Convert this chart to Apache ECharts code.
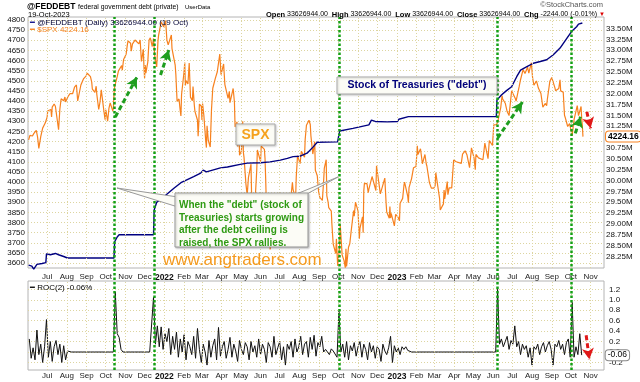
<!DOCTYPE html>
<html><head><meta charset="utf-8">
<script src="https://cdn.jsdelivr.net/npm/echarts@6/dist/echarts.min.js"></script>
<style>html,body{margin:0;padding:0;background:#fff}#c{width:640px;height:382px}</style>
</head><body><div id="c"></div>
<script>
// ---------------- DATA ----------------
const monthTicks = ['2021-07-01','2021-08-01','2021-09-01','2021-10-01','2021-11-01','2021-12-01',
 '2022-01-01','2022-02-01','2022-03-01','2022-04-01','2022-05-01','2022-06-01','2022-07-01','2022-08-01',
 '2022-09-01','2022-10-01','2022-11-01','2022-12-01','2023-01-01','2023-02-01','2023-03-01','2023-04-01',
 '2023-05-01','2023-06-01','2023-07-01','2023-08-01','2023-09-01','2023-10-01','2023-11-01'];
const monthNames = ['Jan','Feb','Mar','Apr','May','Jun','Jul','Aug','Sep','Oct','Nov','Dec'];
const ceilingDates = ['2021-10-14','2021-12-16','2022-10-03','2023-06-07','2023-10-02'];

const spx2021 = [['06-02',4208],['06-04',4230],['06-08',4227],['06-10',4239],['06-14',4255],['06-16',4223],['06-18',4166],['06-21',4224],['06-24',4266],['06-28',4291],['07-01',4320],['07-02',4352],['07-07',4358],['07-08',4321],['07-09',4370],['07-12',4385],['07-14',4374],['07-16',4327],['07-19',4258],['07-21',4359],['07-23',4411],['07-27',4401],['07-29',4420],['07-30',4395],['08-03',4423],['08-05',4429],['08-06',4437],['08-10',4436],['08-13',4468],['08-16',4479],['08-18',4400],['08-19',4406],['08-23',4479],['08-26',4470],['08-27',4509],['08-31',4523],['09-02',4537],['09-07',4520],['09-09',4493],['09-10',4459],['09-14',4443],['09-16',4473],['09-17',4433],['09-20',4358],['09-22',4395],['09-24',4455],['09-28',4353],['09-30',4308],['10-01',4357],['10-04',4300],['10-06',4363],['10-08',4391],['10-12',4351],['10-13',4363],['10-14',4438],['10-15',4471],['10-19',4520],['10-21',4549],['10-22',4545],['10-26',4575],['10-27',4552],['10-29',4605],['11-02',4631],['11-04',4680],['11-05',4697],['11-09',4685],['11-10',4646],['11-12',4682],['11-16',4701],['11-18',4704],['11-19',4698],['11-22',4682],['11-24',4701],['11-26',4595],['11-29',4655],['11-30',4567],['12-01',4513],['12-02',4577],['12-03',4538],['12-06',4592],['12-08',4701],['12-10',4712],['12-13',4669],['12-15',4709],['12-17',4620],['12-20',4568],['12-22',4697],['12-23',4725],['12-27',4791],['12-29',4793],['12-31',4766]];
const spx2022 = [['01-03',4797],['01-04',4794],['01-05',4701],['01-07',4677],['01-10',4670],['01-12',4726],['01-13',4659],['01-14',4663],['01-18',4577],['01-19',4533],['01-21',4398],['01-24',4410],['01-26',4350],['01-27',4326],['01-28',4432],['02-01',4546],['02-02',4590],['02-03',4477],['02-04',4501],['02-07',4484],['02-09',4587],['02-10',4504],['02-11',4419],['02-14',4401],['02-15',4472],['02-17',4380],['02-18',4349],['02-22',4305],['02-23',4226],['02-24',4288],['02-25',4385],['02-28',4374],['03-01',4306],['03-02',4387],['03-04',4329],['03-07',4201],['03-08',4170],['03-09',4278],['03-11',4204],['03-14',4173],['03-16',4358],['03-18',4463],['03-22',4512],['03-24',4520],['03-25',4543],['03-29',4632],['03-31',4530],['04-04',4583],['04-06',4481],['04-08',4488],['04-11',4413],['04-13',4447],['04-14',4392],['04-19',4462],['04-21',4394],['04-22',4272],['04-25',4297],['04-26',4176],['04-28',4288],['04-29',4132],['05-02',4155],['05-04',4300],['05-05',4147],['05-06',4123],['05-09',3991],['05-11',3935],['05-12',3930],['05-13',4023],['05-17',4088],['05-18',3923],['05-20',3901],['05-24',3941],['05-26',4058],['05-27',4158],['06-01',4101],['06-02',4177],['06-07',4161],['06-08',4116],['06-09',4018],['06-10',3901],['06-13',3750],['06-15',3790],['06-16',3667],['06-17',3675],['06-21',3765],['06-23',3796],['06-24',3912],['06-28',3821],['06-30',3785],['07-01',3825],['07-05',3831],['07-08',3899],['07-11',3855],['07-14',3790],['07-15',3863],['07-19',3937],['07-21',3999],['07-22',3962],['07-26',3921],['07-27',4024],['07-29',4130],['08-02',4091],['08-04',4152],['08-05',4145],['08-09',4122],['08-10',4210],['08-12',4280],['08-16',4305],['08-18',4284],['08-19',4228],['08-22',4138],['08-25',4199],['08-26',4058],['08-29',4031],['08-31',3955],['09-02',3924],['09-06',3909],['09-08',4006],['09-09',4067],['09-12',4110],['09-13',3932],['09-15',3901],['09-16',3873],['09-20',3856],['09-21',3790],['09-23',3693],['09-27',3647],['09-28',3719],['09-30',3586],['10-03',3679],['10-04',3791],['10-05',3783],['10-07',3640],['10-10',3612],['10-12',3577],['10-13',3670],['10-14',3583],['10-17',3678],['10-19',3695],['10-21',3752],['10-25',3859],['10-26',3831],['10-28',3901],['11-01',3856],['11-03',3720],['11-04',3771],['11-08',3828],['11-09',3749],['11-10',3956],['11-11',3993],['11-15',3992],['11-17',3947],['11-18',3965],['11-23',4027],['11-25',4026],['11-29',3958],['11-30',4080],['12-02',4072],['12-06',3941],['12-09',3934],['12-13',4019],['12-15',3896],['12-16',3852],['12-20',3821],['12-21',3879],['12-22',3822],['12-23',3845],['12-28',3783],['12-30',3840]];
const spx2023 = [['01-03',3825],['01-05',3808],['01-06',3895],['01-10',3919],['01-12',3983],['01-13',3999],['01-18',3929],['01-19',3898],['01-20',3972],['01-24',4017],['01-27',4070],['01-31',4077],['02-02',4179],['02-03',4136],['02-07',4164],['02-10',4090],['02-14',4136],['02-16',4090],['02-17',4079],['02-21',3997],['02-24',3970],['02-28',3970],['03-02',3982],['03-03',4046],['03-06',4048],['03-09',3918],['03-10',3862],['03-13',3855],['03-15',3892],['03-16',3960],['03-17',3917],['03-21',4002],['03-22',3937],['03-24',3971],['03-28',3971],['03-31',4109],['04-04',4100],['04-06',4105],['04-12',4092],['04-14',4138],['04-18',4154],['04-21',4133],['04-25',4071],['04-27',4135],['04-28',4169],['05-02',4119],['05-04',4061],['05-05',4136],['05-09',4119],['05-12',4124],['05-16',4110],['05-19',4192],['05-24',4115],['05-26',4205],['05-31',4180],['06-02',4282],['06-06',4283],['06-08',4294],['06-09',4299],['06-13',4369],['06-15',4426],['06-16',4410],['06-20',4389],['06-23',4348],['06-26',4328],['06-30',4450],['07-06',4411],['07-07',4399],['07-12',4473],['07-14',4505],['07-18',4555],['07-21',4536],['07-25',4567],['07-27',4538],['07-31',4589],['08-02',4513],['08-04',4478],['08-08',4499],['08-11',4464],['08-15',4437],['08-18',4370],['08-22',4388],['08-24',4377],['08-25',4406],['08-29',4497],['09-01',4516],['09-06',4465],['09-07',4451],['09-08',4457],['09-12',4462],['09-14',4505],['09-15',4450],['09-19',4444],['09-21',4330],['09-22',4320],['09-26',4274],['09-29',4288],['10-03',4229],['10-06',4308],['10-11',4377],['10-13',4328],['10-17',4373],['10-18',4314],['10-19',4278],['10-20',4224.16]];

const debtPoints = [['2021-06-02',28050000],['2021-06-07',28030000],['2021-06-10',27960000],['2021-06-11',27980000],['2021-06-15',28070000],['2021-06-23',28090000],['2021-06-29',28110000],['2021-06-30',28310000],['2021-07-06',28290000],['2021-07-14',28320000],['2021-07-19',28290000],['2021-07-27',28250000],['2021-08-02',28215000],['2021-10-14',28215000],['2021-10-15',28590000],['2021-10-19',28700000],['2021-10-22',28750000],['2021-12-15',28750000],['2021-12-16',29320000],['2021-12-20',29500000],['2021-12-27',29560000],['2022-01-03',29660000],['2022-01-16',29820000],['2022-01-27',29950000],['2022-02-16',30090000],['2022-02-27',30170000],['2022-03-03',30240000],['2022-03-08',30200000],['2022-03-30',30290000],['2022-04-10',30310000],['2022-04-30',30370000],['2022-05-11',30400000],['2022-06-01',30410000],['2022-06-16',30430000],['2022-07-02',30470000],['2022-07-13',30510000],['2022-07-22',30550000],['2022-08-02',30560000],['2022-08-13',30630000],['2022-08-23',30780000],['2022-08-29',30880000],['2022-09-30',30890000],['2022-10-03',31140000],['2022-10-24',31200000],['2022-11-18',31280000],['2022-11-22',31390000],['2022-11-28',31360000],['2022-12-17',31350000],['2023-01-02',31360000],['2023-01-04',31410000],['2023-01-19',31470000],['2023-06-06',31470000],['2023-06-07',31850000],['2023-06-14',31970000],['2023-06-22',32070000],['2023-06-30',32160000],['2023-07-08',32390000],['2023-07-14',32540000],['2023-07-24',32620000],['2023-08-03',32700000],['2023-08-14',32740000],['2023-08-24',32780000],['2023-09-03',32890000],['2023-09-14',33050000],['2023-09-23',33240000],['2023-10-02',33430000],['2023-10-10',33540000],['2023-10-13',33600000],['2023-10-19',33626944]];

// ROC(2) readings, one every 3 days starting rocStart
const rocStart = '2021-06-03';
const rocStepDays = 3;
const rocValues = [
 0.25,-0.12,0.08,-0.15,0.42,-0.05,0.15,-0.2,0.1,0.62,
 -0.1,0.2,-0.18,0.1,0.22,-0.05,0.15,-0.2,0.12,-0.15,
 0.02,0,0,0,0,0,0,0,0,0,0,0,0,0,0,0,0,0,0,0,0,0,0,0,0,
 1.15,
 0.35,0.28,0.05,0,0,0,0,0,0,0,0,0,0,0,0,0,0,0,0,
 1.05,
 0.15,0.5,0.1,0.48,0.05,0.35,0.2,0.45,-0.05,0.3,
 0.05,0.38,-0.1,0.25,0.0,0.33,-0.15,0.2,0.1,-0.05,
 0.3,-0.12,0.45,0.05,-0.2,0.15,0.0,-0.25,0.22,-0.1,
 0.12,0.25,-0.15,0.47,-0.08,0.1,0.2,-0.12,0.05,0.28,
 -0.1,0.15,0.02,-0.18,0.22,0.05,-0.05,0.18,0.1,-0.15,
 0.2,0.0,0.12,-0.1,0.25,-0.05,0.15,0.05,-0.2,0.18,
 0.1,-0.1,0.3,-0.05,0.08,0.2,-0.15,0.1,-0.25,0.15,
 0.05,0.2,-0.1,0.25,0.0,0.1,0.3,-0.05,0.15,0.2,
 -0.1,0.28,0.05,0.32,-0.08,0.18,0.1,0.3,0.0,0.05,
 0.08,-0.05,0.06,0.02,0.05,-0.1,
 0.78,
 0.0,0.15,-0.1,0.2,-0.15,0.12,0.02,0.18,-0.08,0.1,
 0.2,-0.1,0.15,0.05,-0.15,0.18,0.0,0.12,-0.12,0.1,
 0.05,-0.18,0.15,0.02,-0.05,0.08,0.3,-0.2,0.12,0.0,
 0.08,-0.05,0.1,0.05,0.1,0.03,
 0,0,0,0,0,0,0,0,0,0,0,0,0,0,0,0,0,0,0,0,0,0,0,0,0,0,0,0,0,0,0,0,0,0,0,0,0,0,0,0,0,0,0,0,0,0,
 1.2,
 0.15,0.25,0.1,0.2,0.3,0.05,0.22,0.15,0.5,0.1,
 0.2,-0.05,0.15,0.05,0.12,-0.1,0.08,-0.25,0.1,0.05,
 0.15,-0.05,0.1,0.18,0.0,0.12,0.2,0.05,-0.25,0.15,
 0.1,0.22,0.05,0.15,-0.05,0.18,0.25,-0.1,
 0.95,
 -0.1,0.1,-0.05,0.35,-0.06];

// annotation arrows in data coordinates
const spxArrows = [
 {from:['2021-10-16',4321], to:['2021-11-19',4518], color:'#1f9e1f'},
 {from:['2021-12-26',4528], to:['2022-01-08',4652], color:'#1f9e1f'},
 {from:['2022-10-22',3585], to:['2022-11-06',3753], color:'#1f9e1f'},
 {from:['2023-06-08',4217], to:['2023-07-17',4395], color:'#1f9e1f'},
 {from:['2023-10-08',4240], to:['2023-10-16',4322], color:'#1f9e1f'},
 {from:['2023-10-26',4347], to:['2023-11-01',4265], color:'#e01818'}
];
const rocArrow = {from:['2023-10-25',0.32], to:['2023-10-30',-0.14], color:'#e01818'};

// ---------------- BUILD ----------------
function ts(s){const p=s.split('-').map(Number);return new Date(p[0],p[1]-1,p[2]).getTime();}
const spxData = [].concat(
  spx2021.map(d=>[ts('2021-'+d[0]),d[1]]),
  spx2022.map(d=>[ts('2022-'+d[0]),d[1]]),
  spx2023.map(d=>[ts('2023-'+d[0]),d[1]]));
const debtData = debtPoints.map(d=>[ts(d[0]),d[1]]);
const rocData = rocValues.map((v,i)=>[ts(rocStart)+i*rocStepDays*86400000, v]);
const monthTs = monthTicks.map(ts);
const X_MIN = ts('2021-06-01'), X_MAX = ts('2023-11-22');
const FONT = '"Liberation Sans", Arial, sans-serif';
const L = 28, R = 36;

function hiddenX(g){return {type:'value',gridIndex:g,min:X_MIN,max:X_MAX,show:false,splitLine:{show:false}};}
function hiddenY(g){return {type:'value',gridIndex:g,min:0,max:1,show:false,splitLine:{show:false}};}
function labelX(g, margin){
  return {type:'value',gridIndex:g,min:X_MIN,max:X_MAX,
    axisLine:{show:false},axisTick:{show:false},splitLine:{show:false},
    axisLabel:{customValues:monthTs,margin:margin,fontSize:8,color:'#222',fontFamily:FONT,hideOverlap:false,
      formatter:function(v){const d=new Date(v);return d.getMonth()===0?'{y|'+d.getFullYear()+'}':monthNames[d.getMonth()];},
      rich:{y:{fontWeight:'bold',fontSize:8.5,color:'#111',fontFamily:FONT}}}};
}
const gridLineStyle = {color:'#ddd5a0',width:1,type:[1,2]};
function monthGrid(xi, yi){
  return {type:'line',xAxisIndex:xi,yAxisIndex:yi,data:[],silent:true,
    markLine:{silent:true,symbol:['none','none'],label:{show:false},lineStyle:gridLineStyle,
      data:monthTs.map(t=>({xAxis:t}))}};
}
function arrowLines(list){
  return list.map(a=>[{coord:[ts(a.from[0]),a.from[1]],lineStyle:{color:a.color,width:3,type:[5,3]},itemStyle:{color:a.color}},
                      {coord:[ts(a.to[0]),a.to[1]]}]);
}
const boxLabel = (txt,border,dist)=>({show:true,position:'right',distance:dist,formatter:txt,
  backgroundColor:'#fff',borderColor:border,borderWidth:1,borderRadius:3,padding:[1,2,0,2],
  fontSize:8.5,fontWeight:'bold',color:'#000',fontFamily:FONT});

const lastSpx = spxData[spxData.length-1], lastDebt = debtData[debtData.length-1], lastRoc = rocData[rocData.length-1];

const option = {
  animation:false,
  backgroundColor:'#fff',
  grid:[
    {left:L,right:R,top:17,height:251,show:true,borderColor:'#b4b4b4',borderWidth:1,backgroundColor:'transparent'},
    {left:L,right:R,top:20,height:243},
    {left:L,right:R,top:28.5,height:228},
    {left:L,right:R,top:281,height:89,show:true,borderColor:'#b4b4b4',borderWidth:1,backgroundColor:'transparent'},
    {left:L,right:R,top:278.85,height:94.05},
    {left:L,right:R,top:17,height:353}
  ],
  xAxis:[labelX(0,5),hiddenX(1),hiddenX(2),labelX(3,2),hiddenX(4),hiddenX(5)],
  yAxis:[
    hiddenY(0),
    {type:'value',gridIndex:1,position:'left',min:3600,max:4800,interval:50,
      axisLine:{show:false},axisTick:{show:false},
      axisLabel:{fontSize:8,margin:3,color:'#111',fontFamily:FONT,formatter:v=>String(v)},
      splitLine:{show:true,lineStyle:gridLineStyle}},
    {type:'value',gridIndex:2,position:'right',min:28250000,max:33500000,interval:250000,
      axisLine:{show:false},axisTick:{show:false},splitLine:{show:false},
      axisLabel:{fontSize:8,margin:2,color:'#111',fontFamily:FONT,formatter:v=>(v/1e6).toFixed(2)+'M'}},
    hiddenY(3),
    {type:'value',gridIndex:4,position:'right',min:-0.4,max:1.4,interval:0.2,
      axisLine:{show:false},axisTick:{show:false},
      axisLabel:{fontSize:8,margin:5,color:'#111',fontFamily:FONT,showMinLabel:false,showMaxLabel:false,
        formatter:v=>Math.abs(v)<1e-9?'0.0':v.toFixed(1)},
      splitLine:{show:true,showMinLine:false,showMaxLine:false,lineStyle:gridLineStyle}},
    hiddenY(5)
  ],
  series:[
    monthGrid(0,0),
    monthGrid(3,3),
    {name:'SPX',type:'line',xAxisIndex:1,yAxisIndex:1,data:spxData,showSymbol:false,clip:false,z:3,
      lineStyle:{color:'#f7811e',width:1.2},itemStyle:{color:'#f7811e'},
      markLine:{silent:true,symbol:['none','arrow'],symbolSize:[9,11],label:{show:false},data:arrowLines(spxArrows)},
      markPoint:{silent:true,symbol:'rect',symbolSize:0,data:[{coord:lastSpx}],label:boxLabel('4224.16','#f7811e',23)}},
    {name:'FEDDEBT',type:'line',xAxisIndex:2,yAxisIndex:2,data:debtData,showSymbol:false,clip:false,z:4,
      lineStyle:{color:'#000080',width:1.4},itemStyle:{color:'#000080'},
      markPoint:{silent:true,symbol:'rect',symbolSize:0,data:[{coord:lastDebt}],label:boxLabel('33626944.0','#000080',23)}},
    {name:'ROC',type:'line',xAxisIndex:4,yAxisIndex:4,data:rocData,showSymbol:false,clip:false,z:3,
      lineStyle:{color:'#111',width:1},itemStyle:{color:'#111'},
      markLine:{silent:true,symbol:['none','arrow'],symbolSize:[9,11],label:{show:false},data:arrowLines([rocArrow])},
      markPoint:{silent:true,symbol:'rect',symbolSize:0,data:[{coord:lastRoc}],label:Object.assign(boxLabel('-0.06','#888',24),{fontWeight:'normal'})}},
    {type:'line',xAxisIndex:5,yAxisIndex:5,data:[],silent:true,z:5,
      markLine:{silent:true,symbol:['none','none'],label:{show:false},
        lineStyle:{color:'#14a014',width:2.5,type:[2.5,2]},
        data:ceilingDates.map(d=>({xAxis:ts(d)}))}}
  ],
  graphic:[
    {type:'text',x:27,y:6.5,z:100,style:{text:'@FEDDEBT',font:'bold 8.5px '+FONT,fill:'#000',textVerticalAlign:'middle'}},
    {type:'text',x:78,y:7,z:100,style:{text:'federal government debt (private)',font:'6.8px '+FONT,fill:'#000',textVerticalAlign:'middle'}},
    {type:'text',x:185,y:7,z:100,style:{text:'UserData',font:'6px '+FONT,fill:'#000',textVerticalAlign:'middle'}},
    {type:'text',x:28,y:14.5,z:100,style:{text:'19-Oct-2023',font:'7.5px '+FONT,fill:'#000',textVerticalAlign:'middle'}},
    {type:'text',x:603,y:5,z:100,style:{text:'©StockCharts.com',font:'7.5px '+FONT,fill:'#555',textAlign:'right',textVerticalAlign:'middle'}},
    {type:'text',x:597,y:14.5,z:100,style:{
      text:'{b|Open} 33626944.00  {b|High} 33626944.00  {b|Low} 33626944.00  {b|Close} 33626944.00  {b|Chg} -2244.00 (-0.01%)',
      font:'7px '+FONT,fill:'#000',textAlign:'right',textVerticalAlign:'middle',
      rich:{b:{font:'bold 7.5px '+FONT,fill:'#000'}}}},
    {type:'text',x:599,y:14.5,z:100,style:{text:'▼',font:'6px '+FONT,fill:'#d00',textVerticalAlign:'middle'}},
    {type:'text',x:30,y:22.5,z:100,style:{text:'{n|━} @FEDDEBT (Daily) 33626944.00 (19 Oct)',font:'8px '+FONT,fill:'#000033',textVerticalAlign:'middle',
      rich:{n:{fill:'#000080',font:'8px '+FONT}}}},
    {type:'text',x:30,y:29.5,z:100,style:{text:'━ $SPX 4224.16',font:'8px '+FONT,fill:'#f7811e',textVerticalAlign:'middle'}},
    {type:'text',x:30,y:288,z:100,style:{text:'━ ROC(2) -0.06%',font:'8px '+FONT,fill:'#000',textVerticalAlign:'middle'}},
    {type:'polygon',z:90,shape:{points:[[178,197],[117,188],[178,207]]},style:{fill:'#fcfcf6',stroke:'#999',lineWidth:1}},
    {type:'polygon',z:90,shape:{points:[[294,195],[338,177],[305,195]]},style:{fill:'#fcfcf6',stroke:'#999',lineWidth:1}},
    {type:'rect',z:91,shape:{x:175,y:193,width:133,height:54},style:{fill:'#fcfcf6',stroke:'#999',lineWidth:1,shadowBlur:2,shadowColor:'rgba(0,0,0,0.25)',shadowOffsetX:1,shadowOffsetY:1}},
    {type:'text',x:179,y:199,z:92,style:{text:'When the "debt" (stock of\nTreasuries) starts growing\nafter the debt ceiling is\nraised, the SPX rallies.',
      font:'bold 10px '+FONT,fill:'#2e9a12',lineHeight:12.5,textVerticalAlign:'top'}},
    {type:'rect',z:91,shape:{x:236,y:124,width:39,height:21},style:{fill:'#fcfcf6',stroke:'#aaa',lineWidth:1,shadowBlur:2,shadowColor:'rgba(0,0,0,0.2)',shadowOffsetX:1,shadowOffsetY:1}},
    {type:'text',x:255.5,y:135,z:92,style:{text:'SPX',font:'bold 14px '+FONT,fill:'#f5a11c',textAlign:'center',textVerticalAlign:'middle'}},
    {type:'rect',z:91,shape:{x:337,y:77,width:160,height:17},style:{fill:'#fcfcf6',stroke:'#aaa',lineWidth:1,shadowBlur:2,shadowColor:'rgba(0,0,0,0.2)',shadowOffsetX:1,shadowOffsetY:1}},
    {type:'text',x:417,y:85.5,z:92,style:{text:'Stock of Treasuries ("debt")',font:'bold 10.5px '+FONT,fill:'#00007a',textAlign:'center',textVerticalAlign:'middle'}},
    {type:'text',x:163,y:260,z:95,style:{text:'www.angtraders.com',font:'17px '+FONT,fill:'#f59a1e',textVerticalAlign:'middle'}}
  ]
};
const chart = echarts.init(document.getElementById('c'));
chart.setOption(option);
</script></body></html>
